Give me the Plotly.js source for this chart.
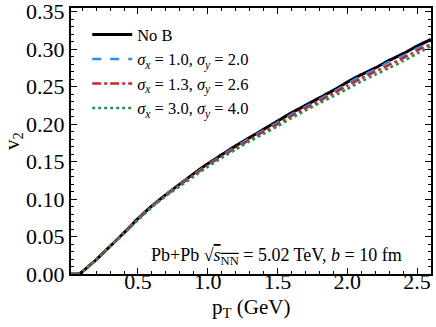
<!DOCTYPE html>
<html>
<head>
<meta charset="utf-8">
<script src="https://cdn.plot.ly/plotly-3.0.1.min.js"></script>
<style>
  html, body { margin: 0; padding: 0; background: #fff; }
</style>
</head>
<body>
<div id="plot" style="width:436px;height:327px;"></div>
<script>
// pT grid (GeV) and v2 curves
const pT = [0.02, 0.06, 0.08, 0.1, 0.15, 0.2, 0.3, 0.4, 0.5, 0.6, 0.7, 0.8, 0.9, 1.0, 1.1, 1.2, 1.3, 1.4, 1.5, 1.6, 1.7, 1.8, 1.9, 2.0, 2.1, 2.2, 2.3, 2.4, 2.5, 2.6];
const v2NoB = [0, 0, 0.0005, 0.003, 0.011, 0.019, 0.037, 0.055, 0.074, 0.091, 0.106, 0.120, 0.134, 0.147, 0.159, 0.171, 0.182, 0.193, 0.204, 0.215, 0.225, 0.235, 0.245, 0.256, 0.266, 0.275, 0.285, 0.294, 0.304, 0.313];
const v2Sig1 = [0, 0, 0.0005, 0.003, 0.011, 0.019, 0.037, 0.055, 0.074, 0.091, 0.106, 0.120, 0.133, 0.146, 0.158, 0.170, 0.181, 0.192, 0.202, 0.213, 0.223, 0.233, 0.243, 0.254, 0.264, 0.273, 0.283, 0.291, 0.301, 0.310];
const v2Sig2 = [0, 0, 0.0005, 0.003, 0.011, 0.019, 0.037, 0.055, 0.073, 0.090, 0.105, 0.119, 0.132, 0.145, 0.157, 0.168, 0.179, 0.190, 0.200, 0.211, 0.221, 0.231, 0.241, 0.251, 0.261, 0.270, 0.279, 0.288, 0.298, 0.307];
const v2Sig3 = [0, 0, 0.0005, 0.003, 0.011, 0.019, 0.037, 0.054, 0.072, 0.089, 0.104, 0.117, 0.130, 0.143, 0.155, 0.166, 0.177, 0.187, 0.197, 0.208, 0.218, 0.228, 0.237, 0.247, 0.257, 0.266, 0.275, 0.284, 0.294, 0.304];

const seriesNames = [
  "No B",
  "<i>σ</i><sub><i>x</i></sub> = 1.0, <i>σ</i><sub><i>y</i></sub> = 2.0",
  "<i>σ</i><sub><i>x</i></sub> = 1.3, <i>σ</i><sub><i>y</i></sub> = 2.6",
  "<i>σ</i><sub><i>x</i></sub> = 3.0, <i>σ</i><sub><i>y</i></sub> = 4.0"
];
const xTicks = [0.5, 1.0, 1.5, 2.0, 2.5];
const yTicks = [0, 0.05, 0.10, 0.15, 0.20, 0.25, 0.30, 0.35];

const serif = "Liberation Serif";

const traces = [
  { y: v2NoB, line: { color: "#000000", width: 3, dash: "solid" } },
  { y: v2Sig1, line: { color: "#2b8ef0", width: 2.5, dash: "dash" } },
  { y: v2Sig2, line: { color: "#c4262b", width: 2.5, dash: "dashdot" } },
  { y: v2Sig3, line: { color: "#2e8b57", width: 2.5, dash: "dot" } }
].map((t, i) => ({
  x: pT,
  y: t.y,
  type: "scatter",
  mode: "lines",
  name: seriesNames[i],
  line: Object.assign({ shape: "spline", smoothing: 0.6 }, t.line)
}));

const axisCommon = {
  showline: true,
  linecolor: "#000",
  linewidth: 2,
  mirror: "allticks",
  ticks: "inside",
  ticklen: 6,
  tickwidth: 1,
  tickcolor: "#000",
  showgrid: false,
  zeroline: false,
  automargin: false,
  ticklabeloverflow: "allow",
  tickfont: { family: serif, size: 22, color: "#000" }
};

const layout = {
  width: 436,
  height: 327,
  margin: { l: 71, r: 5, t: 8, b: 53 },
  font: { family: serif, color: "#000" },
  paper_bgcolor: "#fff",
  plot_bgcolor: "#fff",
  showlegend: true,
  legend: {
    x: 0.045, y: 0.965, xanchor: "left", yanchor: "top",
    bgcolor: "rgba(0,0,0,0)",
    itemwidth: 40,
    font: { family: serif, size: 16.5, color: "#000" },
    tracegroupgap: 0
  },
  xaxis: Object.assign({}, axisCommon, {
    range: [0.02, 2.6],
    tickvals: xTicks,
    ticktext: xTicks.map(v => v.toFixed(1)),
    ticklabelstandoff: -13,
    minor: { dtick: 0.1, ticks: "inside", ticklen: 3, tickcolor: "#000", showgrid: false }
  }),
  yaxis: Object.assign({}, axisCommon, {
    range: [0, 0.355],
    tickvals: yTicks,
    ticktext: yTicks.map(v => v.toFixed(2)),
    minor: { dtick: 0.01, ticks: "inside", ticklen: 3, tickcolor: "#000", showgrid: false },
    title: { text: "v<sub>2</sub>", font: { family: serif, size: 21, color: "#000" }, standoff: 6 }
  }),
  annotations: [
    {
      xref: "paper", yref: "paper",
      x: 0.925, y: 0.015, xanchor: "right", yanchor: "bottom",
      showarrow: false,
      font: { family: serif, size: 18, color: "#000" },
      text: "Pb+Pb √<span style='text-decoration:overline'><i>s</i><sub>NN</sub></span> = 5.02 TeV, <i>b</i> = 10 fm"
    },
    {
      // x-axis title, placed by hand so it sits just under the tick labels
      xref: "paper", yref: "paper",
      x: 0.5, y: -0.127, xanchor: "center", yanchor: "middle",
      showarrow: false,
      font: { family: serif, size: 21, color: "#000" },
      text: "p<sub>T</sub> (GeV)"
    }
  ]
};

Plotly.newPlot("plot", traces, layout, { staticPlot: true });
</script>
</body>
</html>
